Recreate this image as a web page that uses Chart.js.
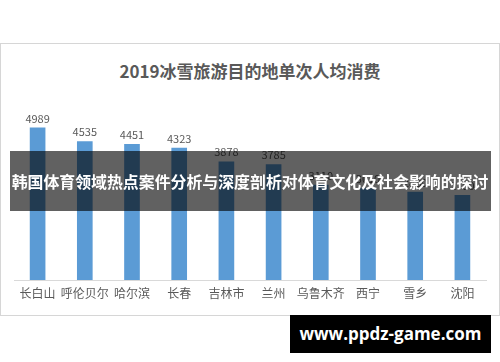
<!DOCTYPE html>
<html lang="zh">
<head>
    <meta charset="UTF-8">
    <script src="https://cdn.jsdelivr.net/npm/chart.js"></script>
    <title>2019冰雪旅游目的地单次人均消费</title>
    <style>
    body {
        margin: 0;
        background-color: white;
        font-family: "Noto Sans CJK SC", sans-serif;
    }
    #wrap {
        position: relative;
        width: 500px;
        height: 362px;
        overflow: hidden;
    }
    #frame {
        position: absolute;
        left: 0;
        top: 43px;
        width: 498px;
        height: 271px;
        border: 1px solid #d6d6d6;
    }
    #title {
        position: absolute;
        left: 0;
        top: 59px;
        width: 500px;
        text-align: center;
        font-size: 17px;
        font-weight: bold;
        color: #595959;
        line-height: 24px;
    }
    #chartBox {
        position: absolute;
        left: 0;
        top: 0;
        width: 500px;
        height: 362px;
    }
    /* dark strip with headline over the chart */
    #banner {
        position: absolute;
        left: 10px;
        top: 151px;
        width: 481px;
        height: 60px;
        background-color: rgba(0, 0, 0, 0.62);
    }
    #bannerText {
        position: absolute;
        left: 0;
        top: 170px;
        width: 500px;
        text-align: center;
        white-space: nowrap;
        font-size: 15.9px;
        font-weight: bold;
        color: white;
        line-height: 24px;
    }
    #mark {
        position: absolute;
        left: 290px;
        top: 315px;
        width: 201px;
        height: 38px;
        background-color: black;
        color: white;
        font-family: "Open Sans", sans-serif;
        font-weight: bold;
        font-size: 17px;
        line-height: 38px;
        text-align: center;
    }
    </style>
</head>
<body>
    <div id="wrap">
        <div id="frame"></div>
        <div id="title">2019冰雪旅游目的地单次人均消费</div>
        <div id="chartBox"><canvas id="spendChart"></canvas></div>
        <div id="banner"></div>
        <div id="bannerText">韩国体育领域热点案件分析与深度剖析对体育文化及社会影响的探讨</div>
        <div id="mark">www.ppdz-game.com</div>
    </div>

    <script>
        // Data (last four are partly hidden, estimated)
        const cities = ['长白山', '呼伦贝尔', '哈尔滨', '长春', '吉林市', '兰州', '乌鲁木齐', '西宁', '雪乡', '沈阳'];
        const spending = [4989, 4535, 4451, 4323, 3878, 3785, 3110, 3010, 2880, 2780];

        // Draws the value above each bar
        const valueLabels = {
            id: 'valueLabels',
            afterDatasetsDraw(chart) {
                const ctx = chart.ctx;
                const meta = chart.getDatasetMeta(0);
                ctx.save();
                ctx.font = '11px "Noto Sans CJK SC", sans-serif';
                ctx.fillStyle = '#595959';
                ctx.textAlign = 'center';
                ctx.textBaseline = 'bottom';
                meta.data.forEach(function(bar, i) {
                    ctx.fillText(spending[i], bar.x, bar.y - 4);
                });
                ctx.restore();
            }
        };

        new Chart(document.getElementById('spendChart'), {
            type: 'bar',
            data: {
                labels: cities,
                datasets: [{
                    data: spending,
                    backgroundColor: '#5b9bd5',
                    barThickness: 15
                }]
            },
            options: {
                responsive: true,
                maintainAspectRatio: false,
                animation: false,
                layout: {
                    padding: { left: 14, right: 14, top: 97, bottom: 55.6 }
                },
                plugins: {
                    legend: { display: false },
                    tooltip: { enabled: false }
                },
                scales: {
                    x: {
                        grid: { display: false, drawTicks: false },
                        border: { color: '#d9d9d9' },
                        ticks: {
                            color: '#595959',
                            padding: 6,
                            maxRotation: 0,
                            autoSkip: false,
                            font: { size: 12, family: '"Noto Sans CJK SC", sans-serif' }
                        }
                    },
                    y: {
                        display: false,
                        min: 0,
                        max: 6000
                    }
                }
            },
            plugins: [valueLabels]
        });
    </script>
</body>
</html>
